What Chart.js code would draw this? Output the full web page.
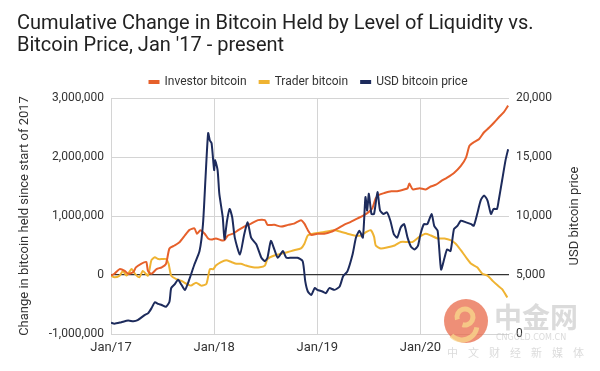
<!DOCTYPE html>
<html>
<head>
<meta charset="utf-8">
<title>Bitcoin held by level of liquidity vs price</title>
<script src="https://cdn.jsdelivr.net/npm/chart.js@4.4.1/dist/chart.umd.min.js"></script>
<style>
    html, body { margin: 0; padding: 0; background: #fff; }
    #wrap { width: 600px; height: 371px; position: relative; }
</style>
</head>
<body>
<div id="wrap"><canvas id="chart" width="600" height="371"></canvas></div>

<script type="text/javascript">
    // x values are months since Jan 2017
    var tickMonths = [0, 12, 24, 36];
    var tickLabels = ['Jan/17', 'Jan/18', 'Jan/19', 'Jan/20'];

    // Investor bitcoin (change in BTC held)
    var investorMonths = [0, 0.4, 1.0, 1.6, 2.0, 2.6, 2.9, 3.5, 4.1, 4.3, 4.7, 5.3, 5.9, 6.4, 6.8, 7.4, 8.0, 8.6, 9.1, 9.7,
        10.0, 10.4, 10.9, 11.3, 11.7, 12.2, 12.8, 13.2, 13.6, 14.2, 14.8, 15.5, 16.3, 17.1, 17.9, 18.2, 19.0, 19.8, 20.6, 21.3,
        22.1, 22.5, 22.9, 23.3, 24.0, 24.8, 25.6, 26.4, 27.1, 27.9, 28.7, 29.5, 30.0, 30.4, 30.8, 31.2, 31.8, 32.6, 33.3, 34.1,
        34.5, 34.7, 35.1, 35.9, 36.6, 37.2, 37.8, 38.4, 39.1, 39.9, 40.7, 41.3, 41.7, 42.2, 42.8, 43.4, 44.0, 44.6, 45.1, 45.7, 46.2];
    var investorBtc = [-10000, 20000, 100000, 70000, 20000, 50000, 130000, 190000, 220000, 70000,
        20000, 100000, 130000, 190000, 450000, 500000, 560000, 670000, 760000, 790000,
        700000, 760000, 700000, 620000, 600000, 620000, 590000, 590000, 670000, 700000,
        760000, 820000, 870000, 930000, 930000, 850000, 850000, 820000, 850000, 870000,
        930000, 870000, 760000, 680000, 700000, 700000, 730000, 790000, 850000, 900000,
        960000, 1020000, 1070000, 1130000, 1300000, 1360000, 1390000, 1420000, 1420000, 1450000,
        1470000, 1550000, 1450000, 1470000, 1450000, 1500000, 1530000, 1590000, 1650000, 1730000,
        1850000, 1990000, 2190000, 2250000, 2300000, 2420000, 2500000, 2590000, 2670000, 2760000, 2870000];

    // Trader bitcoin (change in BTC held)
    var traderMonths = [0, 0.4, 1.0, 1.4, 1.8, 2.4, 2.8, 3.3, 3.7, 4.3, 4.7, 5.1, 5.5, 6.0, 6.4, 6.7, 7.0, 7.6, 8.2, 8.8,
        9.3, 9.9, 10.5, 11.1, 11.5, 11.9, 12.2, 12.8, 13.4, 14.0, 14.6, 15.1, 15.7, 16.5, 17.3, 17.9, 18.2, 19.0, 19.8, 20.6,
        21.3, 22.1, 22.5, 22.9, 23.5, 24.8, 26.0, 26.8, 27.5, 28.3, 29.1, 29.7, 30.2, 30.6, 30.8, 31.4, 32.2, 33.0, 33.7, 34.5,
        35.1, 35.9, 36.6, 37.2, 38.0, 38.8, 39.5, 40.1, 40.7, 41.3, 41.9, 42.6, 43.2, 43.8, 44.4, 45.0, 45.5, 46.1];
    var traderBtc = [-10000, -40000, -10000, 70000, -10000, 100000, 20000, -40000, 70000, -10000,
        250000, 300000, 270000, 270000, 270000, 190000, -10000, -70000, -100000, -150000,
        -180000, -130000, -180000, -150000, 100000, 100000, 160000, 220000, 250000, 220000,
        190000, 190000, 160000, 130000, 130000, 160000, 270000, 330000, 360000, 390000,
        420000, 450000, 530000, 670000, 700000, 730000, 760000, 730000, 700000, 670000,
        670000, 730000, 760000, 650000, 500000, 450000, 470000, 500000, 560000, 560000,
        560000, 650000, 700000, 670000, 620000, 620000, 590000, 530000, 420000, 300000,
        190000, 130000, 20000, -10000, -100000, -180000, -240000, -380000];

    // USD bitcoin price (right axis)
    var priceMonths = [0, 0.4, 1.2, 2.0, 2.6, 3.1, 3.9, 4.3, 4.7, 5.1, 5.5, 5.9, 6.4, 6.8, 7.0, 7.4, 7.8, 8.2, 8.6, 9.1,
        9.7, 10.3, 10.7, 11.0, 11.3, 11.5, 11.7, 12.0, 12.1, 12.4, 12.6, 13.0, 13.2, 13.5, 13.8, 14.1, 14.4, 15.0, 15.5, 15.9,
        16.3, 16.9, 17.5, 17.9, 18.2, 18.6, 19.0, 19.4, 20.0, 20.4, 21.0, 21.7, 22.3, 22.6, 22.9, 23.3, 23.7, 24.0, 24.6, 25.0,
        25.4, 26.0, 26.6, 27.0, 27.5, 28.1, 28.5, 28.9, 29.3, 29.6, 29.8, 30.0, 30.3, 30.6, 31.0, 31.3, 31.7, 32.1, 32.5, 32.9,
        33.3, 33.7, 34.1, 34.5, 34.9, 35.3, 35.7, 36.0, 36.4, 36.8, 37.3, 37.6, 38.0, 38.4, 38.8, 39.1, 39.5, 39.9, 40.3, 40.7,
        41.3, 41.9, 42.2, 42.6, 43.0, 43.4, 43.8, 44.2, 44.5, 44.9, 45.1, 45.5, 45.9, 46.2];
    var priceUsd = [950, 870, 1000, 1140, 1080, 1170, 1600, 1750, 2170, 2690, 2550, 2460, 2310, 2740, 3890, 4200, 4600, 4170, 3740, 4600,
        5890, 7030, 9310, 13300, 17030, 16400, 16170, 13890, 14740, 13890, 11890, 9890, 8030, 9600, 10600, 9890, 8170, 6740, 8460, 9460,
        8170, 7600, 6460, 6170, 6460, 7890, 7170, 6460, 7030, 6460, 6460, 6460, 6170, 4460, 3600, 3310, 3890, 3740, 3600, 3460,
        3890, 3740, 4030, 4890, 5310, 6740, 8170, 8740, 8170, 11600, 10460, 11890, 10170, 10170, 12030, 10460, 10170, 10310, 9600, 8460,
        8170, 9030, 9310, 8170, 7400, 7170, 7460, 8460, 9310, 9310, 10170, 9170, 8740, 5460, 6460, 7170, 7030, 8890, 9170, 9600,
        9460, 9310, 9170, 10170, 11310, 11740, 11310, 10170, 10600, 10600, 11310, 13030, 14740, 15660];

    function toPoints(xs, ys) {
        return xs.map(function (x, i) { return { x: x, y: ys[i] }; });
    }

    function withCommas(v) {
        return String(v).replace(/\B(?=(\d{3})+(?!\d))/g, ',');
    }

    var gridGray = '#d4d4d4';
    var textGray = '#333333';

    // right axis title reads bottom-to-top, draw it ourselves
    var rightTitle = {
        id: 'rightTitle',
        afterDraw: function (chart) {
            var ctx = chart.ctx, area = chart.chartArea;
            ctx.save();
            ctx.translate(575, (area.top + area.bottom) / 2);
            ctx.rotate(-Math.PI / 2);
            ctx.font = '13px Roboto';
            ctx.fillStyle = textGray;
            ctx.textAlign = 'center';
            ctx.textBaseline = 'middle';
            ctx.fillText('USD bitcoin price', 0, 0);
            ctx.restore();
        }
    };

    // site watermark in the lower right corner
    var watermark = {
        id: 'watermark',
        afterDraw: function (chart) {
            var ctx = chart.ctx;
            ctx.save();
            ctx.globalAlpha = 0.75;
            ctx.fillStyle = '#e8694a';
            ctx.beginPath();
            ctx.arc(466, 321, 22, 0, Math.PI * 2);
            ctx.fill();
            ctx.strokeStyle = '#f8d98c';
            ctx.lineWidth = 5;
            ctx.beginPath();
            ctx.arc(465, 317, 8, Math.PI * 0.9, Math.PI * 2.6);
            ctx.stroke();
            ctx.beginPath();
            ctx.arc(462, 325, 15, Math.PI * 0.05, Math.PI * 0.75);
            ctx.stroke();
            ctx.globalAlpha = 0.55;
            ctx.fillStyle = '#bdbdbd';
            ctx.textBaseline = 'middle';
            ctx.textAlign = 'left';
            ctx.font = 'bold 28px "Noto Sans CJK SC"';
            ctx.fillText('中金网', 494, 317);
            ctx.font = '8px "DejaVu Sans"';
            ctx.fillText('CNGOLD.COM.CN', 496, 338);
            ctx.font = '11px "Noto Sans CJK SC"';
            var sub = '中文财经新媒体';
            for (var i = 0; i < sub.length; i++) {
                ctx.fillText(sub[i], 447 + i * 21, 353);
            }
            ctx.restore();
        }
    };

    Chart.defaults.font.family = 'Roboto';
    Chart.defaults.color = textGray;

    new Chart(document.getElementById('chart').getContext('2d'), {
        type: 'line',
        data: {
            datasets: [
                {
                    label: 'Investor bitcoin',
                    data: toPoints(investorMonths, investorBtc),
                    borderColor: '#e6602b',
                    backgroundColor: '#e6602b',
                    borderWidth: 2,
                    pointRadius: 0,
                    tension: 0.2,
                    yAxisID: 'y',
                    order: 1
                },
                {
                    label: 'Trader bitcoin',
                    data: toPoints(traderMonths, traderBtc),
                    borderColor: '#efb332',
                    backgroundColor: '#efb332',
                    borderWidth: 2,
                    pointRadius: 0,
                    tension: 0.2,
                    yAxisID: 'y',
                    order: 2
                },
                {
                    label: 'USD bitcoin price',
                    data: toPoints(priceMonths, priceUsd),
                    borderColor: '#1d2b5c',
                    backgroundColor: '#1d2b5c',
                    borderWidth: 2,
                    pointRadius: 0,
                    tension: 0.2,
                    yAxisID: 'yPrice',
                    order: 0
                }
            ]
        },
        options: {
            responsive: false,
            animation: false,
            layout: { padding: { left: 17, right: 0, top: 0, bottom: 10 } },
            plugins: {
                title: {
                    display: true,
                    text: ['Cumulative Change in Bitcoin Held by Level of Liquidity vs.', 'Bitcoin Price, Jan \'17 - present'],
                    align: 'start',
                    color: '#222222',
                    font: { size: 20, weight: 'normal', lineHeight: 1.1 },
                    padding: { top: 13, bottom: 6 }
                },
                legend: {
                    labels: {
                        boxWidth: 9,
                        boxHeight: 2,
                        padding: 13,
                        font: { size: 12 },
                        sort: function (a, b) { return a.datasetIndex - b.datasetIndex; }
                    }
                },
                tooltip: { enabled: false }
            },
            scales: {
                x: {
                    type: 'linear',
                    min: 0,
                    max: 46.3,
                    afterBuildTicks: function (axis) {
                        axis.ticks = tickMonths.map(function (m) { return { value: m }; });
                    },
                    afterFit: function (axis) { axis.height = 27; },
                    ticks: {
                        autoSkip: false,
                        maxRotation: 0,
                        padding: 6,
                        font: { size: 13 },
                        callback: function (v) { return tickLabels[tickMonths.indexOf(v)]; }
                    },
                    grid: { color: gridGray, drawTicks: false },
                    border: { display: false }
                },
                y: {
                    position: 'left',
                    min: -1000000,
                    max: 3000000,
                    afterFit: function (axis) { axis.width = 94; },
                    ticks: {
                        stepSize: 1000000,
                        padding: 7,
                        font: { size: 12 },
                        callback: function (v) { return withCommas(v); }
                    },
                    grid: {
                        drawTicks: false,
                        color: function (c) { return c.tick && c.tick.value === 0 ? '#333333' : gridGray; },
                        lineWidth: function (c) { return c.tick && c.tick.value === 0 ? 1.3 : 1; }
                    },
                    border: { display: false },
                    title: {
                        display: true,
                        text: 'Change in bitcoin held since start of 2017',
                        font: { size: 13 },
                        padding: 0
                    }
                },
                yPrice: {
                    position: 'right',
                    min: 0,
                    max: 20000,
                    afterFit: function (axis) { axis.width = 91; },
                    ticks: {
                        stepSize: 5000,
                        padding: 7,
                        font: { size: 12 },
                        callback: function (v) { return withCommas(v); }
                    },
                    grid: { drawOnChartArea: false, drawTicks: false },
                    border: { display: false }
                }
            }
        },
        plugins: [rightTitle, watermark]
    });
</script>
</body>
</html>
